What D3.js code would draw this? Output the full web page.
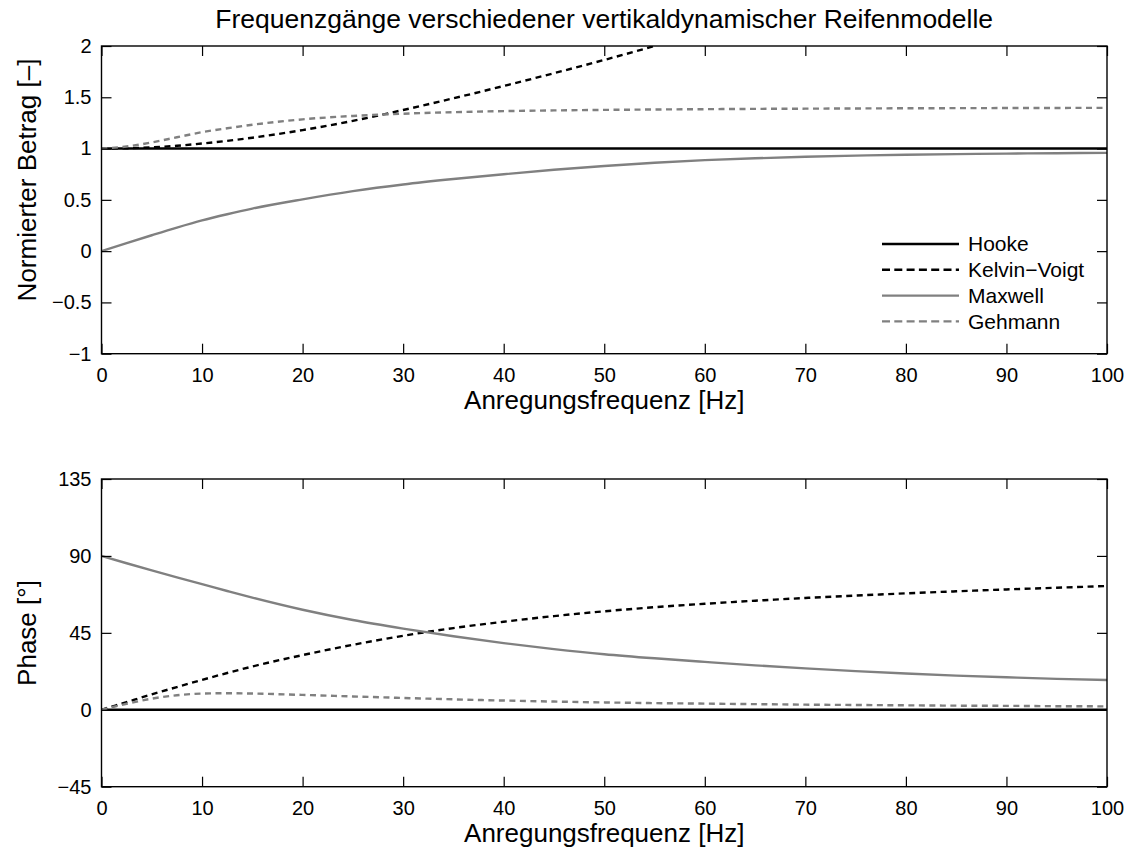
<!DOCTYPE html>
<html>
<head>
<meta charset="utf-8">
<script src="https://cdn.jsdelivr.net/npm/d3@7"></script>
<style>
  html, body { margin: 0; padding: 0; background: #fff; }
  svg { display: block; font-family: "Liberation Sans", Arial, Helvetica, sans-serif; }
</style>
</head>
<body>
<svg id="chart" width="1133" height="854"></svg>
<script>
// Excitation frequency grid [Hz]
const freq = [0, 2.5, 5, 7.5, 10, 12.5, 15, 20, 25, 30, 35, 40, 45, 50, 55, 60, 65, 70, 75, 80, 85, 90, 95, 100];

// Normalised magnitude [-]
const magHooke   = [1, 1, 1, 1, 1, 1, 1, 1, 1, 1, 1, 1, 1, 1, 1, 1, 1, 1, 1, 1, 1, 1, 1, 1];
const magKelvin  = [1, 1.003, 1.012, 1.027, 1.049, 1.075, 1.106, 1.18, 1.27, 1.376, 1.49, 1.61, 1.735, 1.864, 2.0, null, null, null, null, null, null, null, null, null];
const magMaxwell = [0, 0.078, 0.155, 0.23, 0.30, 0.36, 0.415, 0.505, 0.585, 0.65, 0.703, 0.75, 0.793, 0.83, 0.862, 0.887, 0.905, 0.92, 0.931, 0.94, 0.946, 0.951, 0.955, 0.958];
const magGehmann = [1, 1.02, 1.06, 1.11, 1.16, 1.198, 1.232, 1.285, 1.318, 1.34, 1.355, 1.365, 1.372, 1.377, 1.381, 1.384, 1.387, 1.389, 1.391, 1.393, 1.394, 1.395, 1.396, 1.397];

// Phase [deg]
const phHooke   = [0, 0, 0, 0, 0, 0, 0, 0, 0, 0, 0, 0, 0, 0, 0, 0, 0, 0, 0, 0, 0, 0, 0, 0];
const phKelvin  = [0, 4.5, 9, 13.3, 17.5, 21.5, 25.3, 32, 38, 43.3, 47.8, 51.5, 54.8, 57.6, 60, 62, 63.8, 65.4, 66.8, 68.1, 69.3, 70.4, 71.4, 72.4];
const phMaxwell = [90, 85.7, 81.5, 77.4, 73.5, 69.5, 65.6, 58.5, 52.5, 47.5, 43, 39, 35.5, 32.5, 30.1, 28, 26, 24.2, 22.6, 21.2, 20, 19, 18.1, 17.4];
const phGehmann = [0, 3.5, 6.5, 8.5, 9.5, 9.7, 9.5, 8.7, 7.8, 6.9, 6.1, 5.4, 4.8, 4.3, 3.9, 3.6, 3.3, 3.0, 2.8, 2.6, 2.4, 2.3, 2.1, 2.0];

// Axis ticks
const xTicks = [0, 10, 20, 30, 40, 50, 60, 70, 80, 90, 100];
const magTicks = [-1, -0.5, 0, 0.5, 1, 1.5, 2];
const phTicks = [-45, 0, 45, 90, 135];

// Legend entries
const seriesNames = ["Hooke", "Kelvin\u2212Voigt", "Maxwell", "Gehmann"];

const styles = [
  { color: "#000000", dash: null,    width: 2.4 },
  { color: "#000000", dash: "6,4.5", width: 2.4 },
  { color: "#808080", dash: null,    width: 2.4 },
  { color: "#808080", dash: "6,4.5", width: 2.4 }
];

const svg = d3.select("#chart");
const left = 101.5, right = 1107;
const fmt = v => (v < 0 ? "\u2212" + Math.abs(v) : String(v));

function panel(id, top, bottom, yDomain, yTicks, seriesList, yLabel, yLabelCenter) {
  const x = d3.scaleLinear().domain([0, 100]).range([left, right]);
  const y = d3.scaleLinear().domain(yDomain).range([bottom, top]);
  const g = svg.append("g");

  g.append("clipPath").attr("id", id)
    .append("rect").attr("x", left).attr("y", top)
    .attr("width", right - left).attr("height", bottom - top);

  const line = d3.line()
    .defined(d => d[1] !== null)
    .x(d => x(d[0])).y(d => y(d[1]))
    .curve(d3.curveMonotoneX);

  const plot = g.append("g").attr("clip-path", `url(#${id})`);
  seriesList.forEach((vals, i) => {
    const st = styles[i];
    plot.append("path")
      .datum(freq.map((f, k) => [f, vals[k]]))
      .attr("fill", "none")
      .attr("stroke", st.color)
      .attr("stroke-width", st.width)
      .attr("stroke-dasharray", st.dash)
      .attr("d", line);
  });

  const axisStyle = sel => {
    sel.select(".domain").remove();
    sel.selectAll(".tick line").attr("stroke", "#000").attr("stroke-width", 1.2);
    sel.selectAll(".tick text").attr("fill", "#000").style("font-size", "20px");
  };

  g.append("g").attr("transform", `translate(0,${bottom})`)
    .call(d3.axisBottom(x).tickValues(xTicks).tickSize(-10).tickPadding(14).tickFormat(fmt))
    .call(axisStyle);
  g.append("g").attr("transform", `translate(0,${top})`)
    .call(d3.axisTop(x).tickValues(xTicks).tickSize(-10).tickFormat(""))
    .call(axisStyle);
  g.append("g").attr("transform", `translate(${left},0)`)
    .call(d3.axisLeft(y).tickValues(yTicks).tickSize(-10).tickPadding(10).tickFormat(fmt))
    .call(axisStyle);
  g.append("g").attr("transform", `translate(${right},0)`)
    .call(d3.axisRight(y).tickValues(yTicks).tickSize(-10).tickFormat(""))
    .call(axisStyle);

  g.append("rect")
    .attr("x", left).attr("y", top)
    .attr("width", right - left).attr("height", bottom - top)
    .attr("fill", "none").attr("stroke", "#000").attr("stroke-width", 1.4);

  g.append("text")
    .attr("x", (left + right) / 2).attr("y", bottom + 55.5)
    .attr("text-anchor", "middle").style("font-size", "26px")
    .text("Anregungsfrequenz [Hz]");

  g.append("text")
    .attr("transform", `translate(36,${yLabelCenter}) rotate(-90)`)
    .attr("text-anchor", "middle").style("font-size", "26px")
    .text(yLabel);

  return { x, y, g };
}

panel("clipMag", 46, 353.7, [-1, 2], magTicks,
  [magHooke, magKelvin, magMaxwell, magGehmann], "Normierter Betrag [\u2013]", 180);
panel("clipPh", 479, 786.7, [-45, 135], phTicks,
  [phHooke, phKelvin, phMaxwell, phGehmann], "Phase [\u00b0]", 633);

// Title
svg.append("text")
  .attr("x", (left + right) / 2).attr("y", 28)
  .attr("text-anchor", "middle").style("font-size", "26.5px")
  .text("Frequenzg\u00e4nge verschiedener vertikaldynamischer Reifenmodelle");

// Legend (no frame)
const legend = svg.append("g");
seriesNames.forEach((name, i) => {
  const ly = 244 + i * 25.8;
  const st = styles[i];
  legend.append("line")
    .attr("x1", 882).attr("x2", 959).attr("y1", ly).attr("y2", ly)
    .attr("stroke", st.color).attr("stroke-width", st.width)
    .attr("stroke-dasharray", st.dash ? "8,4.3" : null);
  legend.append("text")
    .attr("x", 968).attr("y", ly).attr("dy", "0.35em")
    .style("font-size", "21px")
    .text(name);
});
</script>
</body>
</html>
